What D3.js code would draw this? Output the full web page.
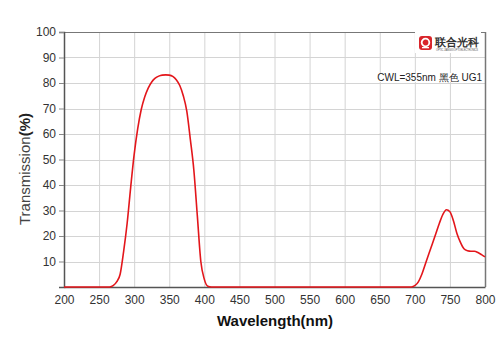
<!DOCTYPE html>
<html lang="en">
<head>
    <meta charset="UTF-8">
    <title>Transmission UG1</title>
    <style>
        body { margin: 0; background: #fff; }
        text { font-family: Arial, "Liberation Sans", sans-serif; }
    </style>
</head>
<body>
<svg height="353" width="500"></svg>

<script src="https://cdnjs.cloudflare.com/ajax/libs/d3/7.8.5/d3.min.js"></script>
<script>

    // wavelength (nm) and transmission (%)
    var wavelengths = [200, 265, 270, 275, 280, 285, 290, 295, 300, 305, 310, 315, 320, 325, 330, 335, 340, 345, 350, 355,
        360, 365, 370, 375, 380, 385, 390, 395, 400, 405, 410,
        695, 700, 705, 710, 715, 720, 725, 730, 735, 740, 745, 750, 755, 760, 765, 770, 775, 780, 785, 790, 795, 800];
    var transmission = [0, 0, 0.5, 2, 5, 14, 25, 39, 52, 62, 69.5, 74.5, 78, 80.4, 81.9, 82.7, 83.1, 83.2, 83.1, 82.6,
        81.3, 79, 75, 69, 58, 46, 28, 10, 3, 0.3, 0,
        0, 0.5, 2, 5, 9, 13, 17, 21, 25, 28.5, 30.3, 29.5, 26, 21, 17.5, 15, 14.2, 14, 14, 13.5, 12.7, 11.8];

    var xTicks = [200, 250, 300, 350, 400, 450, 500, 550, 600, 650, 700, 750, 800];
    var yTicks = [10, 20, 30, 40, 50, 60, 70, 80, 90, 100];

    var xTitle = "Wavelength(nm)";
    var yTitle = "Transmission";
    var yUnit = "(%)";
    var logoText = "联合光科";
    var logoSub = "OPTIC JIANGXI OPTOELECTRONICS";
    var noteText = "CWL=355nm 黑色 UG1";

    var margins = {top: 32, right: 15, bottom: 66, left: 64};

    var svg = d3.select("svg");
    var width = +svg.attr("width") - margins.left - margins.right;
    var height = +svg.attr("height") - margins.top - margins.bottom;

    var g = svg.append("g").attr("transform", "translate(" + margins.left + "," + margins.top + ")");

    var x = d3.scaleLinear().domain([200, 800]).range([0, width]);
    var y = d3.scaleLinear().domain([0, 100]).range([height, 0]);

    // grid
    g.append("g").selectAll("line").data(xTicks.slice(1)).enter().append("line")
        .attr("x1", function(d) { return x(d) + 0.5; })
        .attr("x2", function(d) { return x(d) + 0.5; })
        .attr("y1", 0).attr("y2", height)
        .attr("stroke", "#d4d4d4").attr("stroke-width", 1);

    g.append("g").selectAll("line").data(yTicks).enter().append("line")
        .attr("x1", 0).attr("x2", width)
        .attr("y1", function(d) { return Math.round(y(d)) + 0.5; })
        .attr("y2", function(d) { return Math.round(y(d)) + 0.5; })
        .attr("stroke", "#d4d4d4").attr("stroke-width", 1);

    // frame
    g.append("line").attr("x1", 0).attr("x2", width).attr("y1", 0.5).attr("y2", 0.5)
        .attr("stroke", "#777").attr("stroke-width", 1);
    g.append("line").attr("x1", width + 0.5).attr("x2", width + 0.5).attr("y1", 0).attr("y2", height)
        .attr("stroke", "#777").attr("stroke-width", 1.5);

    // axes
    var xAxis = g.append("g").attr("transform", "translate(0," + height + ")")
        .call(d3.axisBottom(x).tickValues(xTicks).tickSize(0).tickPadding(8));
    var yAxis = g.append("g")
        .call(d3.axisLeft(y).tickValues(yTicks).tickSize(5).tickPadding(3));

    [xAxis, yAxis].forEach(function(a) {
        a.select(".domain").attr("stroke", "#555").attr("stroke-width", 1.5);
        a.selectAll("text").attr("font-size", 12).attr("fill", "#333")
            .attr("font-family", "Arial, 'Liberation Sans', sans-serif");
    });
    yAxis.selectAll(".tick line").attr("stroke", "#888");

    // curve
    var pts = wavelengths.map(function(w, i) { return [w, transmission[i]]; });
    var line = d3.line()
        .x(function(d) { return x(d[0]); })
        .y(function(d) { return y(d[1]); })
        .curve(d3.curveMonotoneX);

    g.append("path").datum(pts)
        .attr("d", line)
        .attr("fill", "none")
        .attr("stroke", "#e3161b")
        .attr("stroke-width", 1.6);

    // logo + note
    var logo = svg.append("g").attr("transform", "translate(419,36)");
    logo.append("rect").attr("x", -4).attr("y", -4).attr("width", 66).attr("height", 21).attr("fill", "#fff");
    logo.append("rect").attr("width", 13).attr("height", 14).attr("rx", 3).attr("fill", "#d9252b");
    logo.append("circle").attr("cx", 6.5).attr("cy", 6.5).attr("r", 3.8)
        .attr("fill", "none").attr("stroke", "#fff").attr("stroke-width", 1.8);
    logo.append("rect").attr("x", 3).attr("y", 11).attr("width", 7).attr("height", 1.3).attr("fill", "#fff");
    logo.append("text").attr("x", 16).attr("y", 10)
        .attr("font-size", 11).attr("font-weight", "bold").attr("fill", "#333")
        .attr("font-family", "'Noto Sans CJK SC', sans-serif")
        .text(logoText);
    logo.append("text").attr("x", 17).attr("y", 15)
        .attr("font-size", 2.6).attr("fill", "#555").attr("textLength", 42)
        .text(logoSub);

    var noteBg = svg.append("rect").attr("fill", "#fff");
    var note = svg.append("text").attr("x", 482).attr("y", 81)
        .attr("text-anchor", "end").attr("font-size", 10).attr("fill", "#222")
        .attr("font-family", "Arial, 'Noto Sans CJK SC', sans-serif")
        .text(noteText);
    var bb = note.node().getBBox();
    noteBg.attr("x", bb.x - 1).attr("y", bb.y + 1).attr("width", bb.width + 2).attr("height", bb.height - 2);

    // titles
    svg.append("text").attr("x", 275).attr("y", 326)
        .attr("text-anchor", "middle").attr("font-size", 15).attr("font-weight", "bold").attr("fill", "#111")
        .text(xTitle);

    var yt = svg.append("text")
        .attr("transform", "translate(30,225) rotate(-90)")
        .attr("text-anchor", "start").attr("font-size", 15).attr("fill", "#444")
        .style("font-weight", "400");
    yt.append("tspan").style("font-weight", "400").text(yTitle);
    yt.append("tspan").style("font-weight", "700").attr("fill", "#222").text(yUnit);

</script>
</body>
</html>
